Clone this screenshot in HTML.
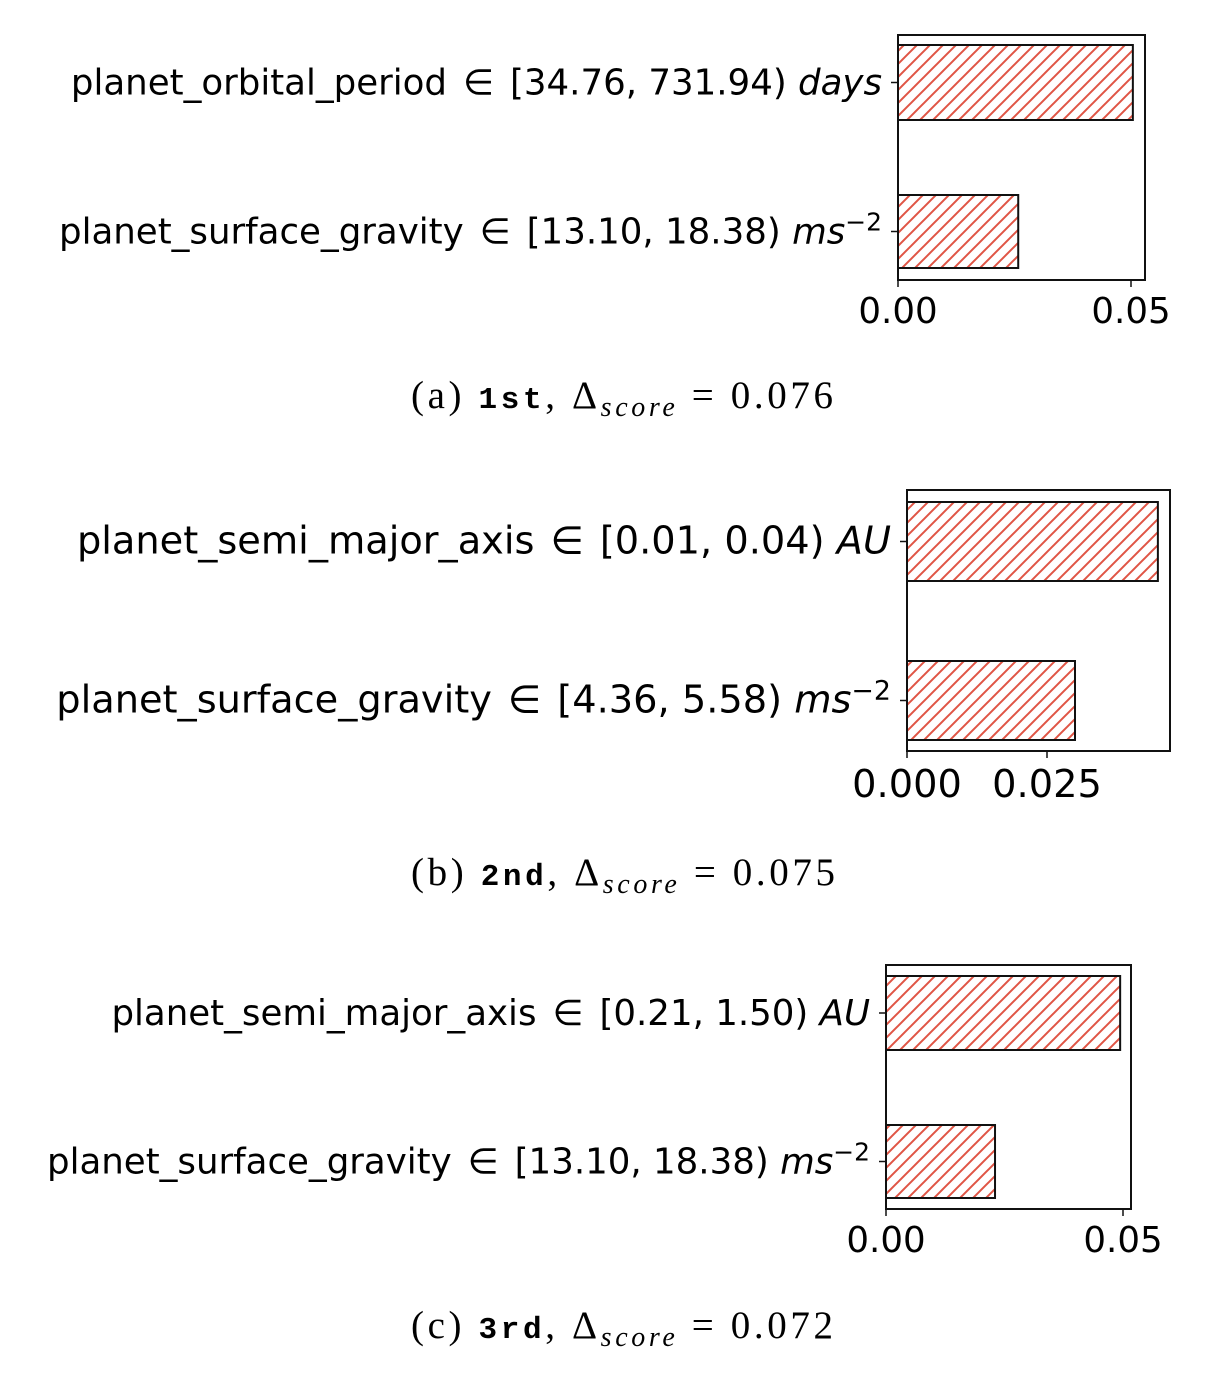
<!DOCTYPE html>
<html><head><meta charset="utf-8"><style>
body{margin:0;background:#fff}
svg text{font-family:"DejaVu Sans","Liberation Sans",sans-serif}
.cap{font-family:"Liberation Serif","DejaVu Serif",serif}
</style></head><body>
<svg id="c" width="1214" height="1368" viewBox="0 0 1214 1368" xmlns="http://www.w3.org/2000/svg">
<defs>
<pattern id="h" patternUnits="userSpaceOnUse" width="13" height="13">
<line x1="-1" y1="14" x2="14" y2="-1" stroke="#e05545" stroke-width="2"/>
<line x1="-7.5" y1="7.5" x2="7.5" y2="-7.5" stroke="#e05545" stroke-width="2"/>
<line x1="5.5" y1="20.5" x2="20.5" y2="5.5" stroke="#e05545" stroke-width="2"/>
</pattern>
</defs>
</svg>
<script>
const namesA=["planet_orbital_period","planet_surface_gravity"];
const rangesA=["[34.76, 731.94) ","[13.10, 18.38) "];
const unitsA=["days","ms"];
const valuesA=[0.0504,0.0258];
const ticksA=[0,0.05];const tickTextA=["0.00","0.05"];
const namesB=["planet_semi_major_axis","planet_surface_gravity"];
const rangesB=["[0.01, 0.04) ","[4.36, 5.58) "];
const unitsB=["AU","ms"];
const valuesB=[0.0448,0.030];
const ticksB=[0,0.025];const tickTextB=["0.000","0.025"];
const namesC=["planet_semi_major_axis","planet_surface_gravity"];
const rangesC=["[0.21, 1.50) ","[13.10, 18.38) "];
const unitsC=["AU","ms"];
const valuesC=[0.0494,0.023];
const ticksC=[0,0.05];const tickTextC=["0.00","0.05"];
const captions=[["(a) ","1st",", \u0394","score"," = 0.076"],["(b) ","2nd",", \u0394","score"," = 0.075"],["(c) ","3rd",", \u0394","score"," = 0.072"]];
const NS="http://www.w3.org/2000/svg";
const svg=document.getElementById('c');
function el(t,a,p){const e=document.createElementNS(NS,t);for(const k in a)e.setAttribute(k,a[k]);(p||svg).appendChild(e);return e;}
function panel(key,names,ranges,units,values,ticks,tickText,L,T,R,B,pxPerUnit,bars,tickY,fs,capY,cap,capW){
  const g=el('g',{});
  
  
  const x=v=>L+v*pxPerUnit;
  values.forEach((v,i)=>{
    const [y0,y1]=bars[i];
    const r=el('rect',{x:L,y:y0,width:x(v)-L,height:y1-y0,fill:'url(#h)',stroke:'#111','stroke-width':2},g);
    
    
    const cy=(y0+y1)/2;
    el('line',{x1:L-7,y1:cy,x2:L,y2:cy,stroke:'#111','stroke-width':1.5},g);
    const t=el('text',{x:L-16,y:cy+12,'font-size':fs,'text-anchor':'end',fill:'#000'},g);
    
    
    t.appendChild(document.createTextNode(names[i]));
    const e=el('tspan',{dx:16},t);e.textContent='\u2208';
    const rg=el('tspan',{dx:16},t);rg.textContent=ranges[i];
    const u=el('tspan',{'font-style':'italic'},t);u.textContent=units[i];
    if(units[i]==='ms'){const s=el('tspan',{dy:-13,'font-size':fs*0.7},t);s.textContent='\u22122';}
  });
  const f=el('rect',{x:L,y:T,width:R-L,height:B-T,fill:'none',stroke:'#111','stroke-width':2},g);
  
  
  ticks.forEach((v,i)=>{
    el('line',{x1:x(v),y1:B,x2:x(v),y2:B+7,stroke:'#111','stroke-width':1.5},g);
    const t=el('text',{x:x(v),y:tickY,'font-size':fs,'text-anchor':'middle'},g);
    
    
    t.textContent=tickText[i];
  });
  const c=el('text',{x:411,y:capY,'font-size':39,textLength:capW,lengthAdjust:'spacing',class:'cap'},g);
  
  
  c.appendChild(document.createTextNode(cap[0]));
  const b=el('tspan',{'font-family':'Liberation Mono,monospace','font-weight':'bold','font-size':31},c);b.textContent=cap[1];
  c.appendChild(document.createTextNode(cap[2]));
  const s=el('tspan',{dy:8,'font-style':'italic','font-size':28},c);s.textContent=cap[3];
  const e=el('tspan',{dy:-8},c);e.textContent=cap[4];
}
panel('a',namesA,rangesA,unitsA,valuesA,ticksA,tickTextA,898,35,1145,280,233/0.05,[[45,120],[195,268]],323,35.6,408,captions[0],422);
panel('b',namesB,rangesB,unitsB,valuesB,ticksB,tickTextB,907,490,1170,751,140/0.025,[[502,581],[661,740]],797,38.3,885,captions[1],424);
panel('c',namesC,rangesC,unitsC,valuesC,ticksC,tickTextC,886,965,1131,1209,237/0.05,[[976,1050],[1125,1198]],1252,35.6,1338,captions[2],422);
</script>
</body></html>
